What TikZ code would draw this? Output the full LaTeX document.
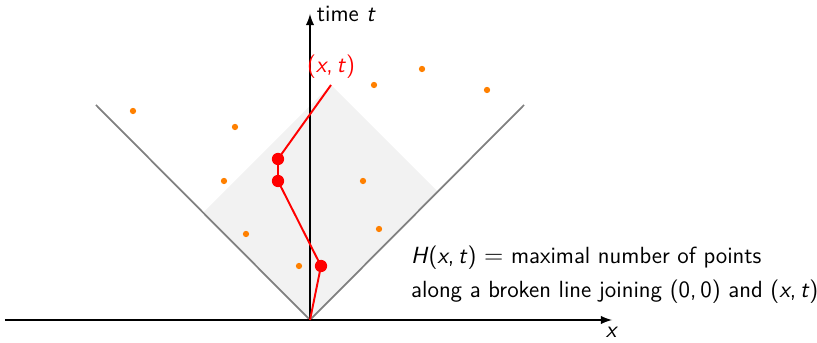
\documentclass[tikz,border=0pt]{standalone}
\usepackage{fontspec}
\renewcommand{\familydefault}{\sfdefault}
\newcommand{\var}[1]{\textit{#1}}
\newcommand{\lbl}{\fontsize{13.3}{16}\selectfont}
\definecolor{dotorange}{RGB}{255,128,0}
\tikzset{
  hit/.style={circle,fill=red,inner sep=0pt,minimum size=7pt},
  pt/.style={circle,fill=dotorange,inner sep=0pt,minimum size=3.6pt},
  cone/.style={gray,line width=1pt}
}
\begin{document}
\begin{tikzpicture}[>=latex]
\useasboundingbox (-6.2,-0.44) rectangle (10.14,6.4);
% backward cone of (x,t)
\fill[black!5] (0,0) -- (2.56,2.56) -- (0.42,4.7) -- (-2.14,2.14) -- cycle;
\draw[cone] (-4.28,4.3) -- (0,0) -- (4.28,4.3);
% axes
\draw[->,line width=1.2pt] (-6.1,0) -- (6.04,0) node[below] {\lbl \var{x}};
\draw[->,line width=1.2pt] (0,0) -- (0,6.12) node[right] {\lbl time \var{t}};
% points
\foreach \p in {(-3.54,4.18),(-1.5,3.86),(-1.72,2.78),(-1.28,1.72),(-0.22,1.08),
  (1.06,2.78),(1.38,1.82),(1.28,4.7),(2.24,5.02),(3.54,4.6)}
  \node[pt] at \p {};
% broken line
\coordinate (o) at (0,0);
\node[hit] (p1) at (0.22,1.08) {};
\node[hit] (p2) at (-0.64,2.78) {};
\node[hit] (p3) at (-0.64,3.22) {};
\coordinate (xt) at (0.42,4.7);
\draw[red,line width=1.1pt] (o) -- (p1.center) -- (p2.center) -- (p3.center) -- (xt);
\node[red,above] (lab) at (xt) {\lbl (\var{x},\,\var{t})};
\node[anchor=west,align=left] (txt) at (1.9,0.91)
  {\lbl \var{H}(\var{x},\,\var{t}) $=$ maximal number of points\\[5pt]
   \lbl along a broken line joining (0,\,0) and (\var{x},\,\var{t})};
\end{tikzpicture}
\end{document}
